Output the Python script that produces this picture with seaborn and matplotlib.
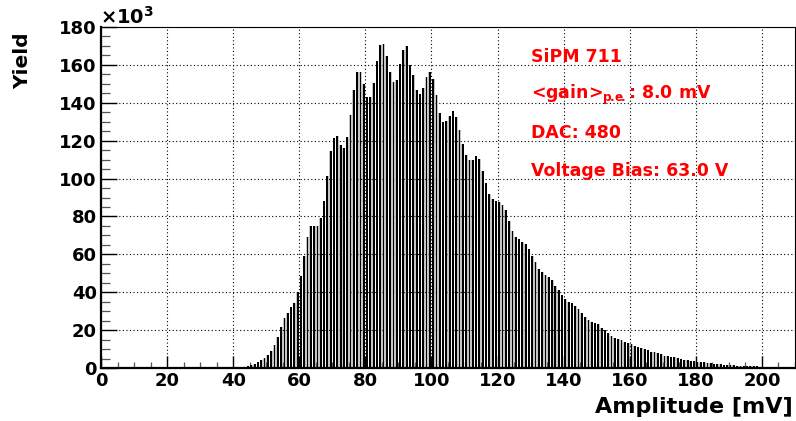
import numpy as np
import pandas as pd
import matplotlib
matplotlib.use("Agg")
import matplotlib.pyplot as plt
import seaborn as sns
from matplotlib.ticker import MultipleLocator

# Amplitude bins (1 mV wide, lower edges) and yield per bin (in units of 10^3)
amplitude_mv = list(range(41, 209))
yield_k = [
    0.2, 0.35, 0.5, 1.0, 1.5, 2.1, 3.0, 4.2, 5.1, 6.9,            # 41-50
    9.0, 12.2, 16.5, 21.8, 26.2, 28.8, 32.1, 34.5, 40.0, 48.6,    # 51-60
    59.2, 69.0, 74.7, 75.2, 75.2, 79.1, 88.0, 101.4, 114.8, 121.3,  # 61-70
    122.2, 117.8, 116.0, 121.7, 133.3, 146.5, 156.0, 156.5, 150.0, 143.0,  # 71-80
    143.0, 150.4, 162.2, 170.6, 171.1, 164.5, 156.2, 150.9, 152.1, 160.4,  # 81-90
    168.0, 170.0, 160.0, 154.8, 146.9, 144.7, 147.7, 153.5, 156.3, 152.6,  # 91-100
    144.2, 134.5, 130.1, 130.5, 133.2, 135.8, 132.5, 125.7, 118.3, 112.5,  # 101-110
    109.7, 109.6, 111.7, 110.4, 104.1, 97.8, 92.1, 89.1, 88.0, 87.8,       # 111-120
    86.1, 83.4, 77.5, 72.5, 69.0, 67.9, 66.7, 65.3, 62.8, 59.2,            # 121-130
    55.7, 52.3, 50.5, 49.1, 48.2, 46.5, 43.3, 41.2, 38.5, 36.3,            # 131-140
    34.7, 34.2, 32.9, 31.0, 28.9, 27.1, 25.4, 24.5, 23.6, 23.1,            # 141-150
    21.3, 20.1, 18.7, 16.9, 16.0, 15.1, 14.8, 13.9, 13.0, 12.7,            # 151-160
    11.8, 10.9, 10.5, 9.9, 9.5, 8.6, 8.3, 7.7, 7.4, 6.5,                   # 161-170
    6.2, 6.0, 5.6, 5.1, 4.8, 4.4, 4.2, 3.9, 3.7, 3.3,                      # 171-180
    3.0, 3.0, 2.6, 2.5, 2.1, 2.1, 1.9, 1.6, 1.6, 1.4,                      # 181-190
    1.4, 1.2, 1.2, 1.1, 0.9, 0.9, 0.9, 0.9, 0.7, 0.5,                      # 191-200
    0.4, 0.4, 0.3, 0.3, 0.3, 0.2, 0.2, 0.2,                                # 201-208
]

x_ticks = list(range(0, 201, 20))
y_ticks = list(range(0, 181, 20))

label_lines = ["SiPM 711",
               r"<gain>$_{\mathbf{p\!.\!e\!.}}$: 8.0 mV",
               "DAC: 480",
               "Voltage Bias: 63.0 V"]

df = pd.DataFrame({"amplitude": [a + 0.5 for a in amplitude_mv], "yield": yield_k})
bin_range = (amplitude_mv[0], amplitude_mv[-1] + 1)

sns.set_style("white")
plt.rcParams["font.family"] = ["DejaVu Sans"]
plt.rcParams["font.weight"] = "bold"
plt.rcParams["mathtext.fontset"] = "dejavusans"
plt.rcParams["mathtext.default"] = "bf"
plt.rcParams["text.color"] = "black"

W, H = 796, 421
fig = plt.figure(figsize=(W / 100, H / 100), dpi=100)
ax = fig.add_axes([101 / W, 1 - 368 / H, (795 - 101) / W, (368 - 27) / H])

# Light shading next to each bar, then the black bars themselves
sns.histplot(data=df, x="amplitude", weights="yield", binwidth=1, binrange=bin_range,
             shrink=0.85, color="#c4c4c4", edgecolor="none", alpha=1, ax=ax, zorder=2)
sns.histplot(data=df, x="amplitude", weights="yield", binwidth=1, binrange=bin_range,
             shrink=0.55, color="black", edgecolor="none", alpha=1, ax=ax, zorder=3)

ax.set_xlim(0, 210)
ax.set_ylim(0, 180)
ax.set_xticks(x_ticks)
ax.set_yticks(y_ticks)
ax.set_xticklabels([str(t) for t in x_ticks])
ax.set_yticklabels([str(t) for t in y_ticks])
ax.xaxis.set_minor_locator(MultipleLocator(5))
ax.yaxis.set_minor_locator(MultipleLocator(5))

ax.tick_params(axis="x", which="both", bottom=True, top=False)
ax.tick_params(axis="y", which="both", left=True, right=False)
ax.tick_params(axis="x", which="major", direction="in", length=8.6, width=1.0,
               labelsize=13, pad=3, color="black", labelcolor="black")
ax.tick_params(axis="x", which="minor", direction="in", length=4.3, width=0.9,
               color="#555555")
ax.tick_params(axis="y", which="major", direction="in", length=11.5, width=1.0,
               labelsize=13, pad=3, color="black", labelcolor="black")
ax.tick_params(axis="y", which="minor", direction="in", length=6.5, width=0.9,
               color="#555555")
for lab in ax.get_xticklabels() + ax.get_yticklabels():
    lab.set_fontweight("bold")

ax.grid(True, which="major", color="black", linestyle=(0, (1, 2.2)), linewidth=0.8)
ax.set_axisbelow(False)
for line in ax.get_xgridlines() + ax.get_ygridlines():
    line.set_zorder(1)

for side in ["left", "bottom"]:
    ax.spines[side].set_linewidth(1.6)
for side in ["top", "right"]:
    ax.spines[side].set_linewidth(0.8)
for s in ax.spines.values():
    s.set_color("black")
    s.set_zorder(5)

ax.set_xlabel("")
ax.set_ylabel("")

# Axis titles placed at the end of each axis
fig.text(793 / W, 1 - 407 / H, "Amplitude [mV]", ha="right", va="center",
         fontsize=16, fontweight="bold", color="black")
fig.text(23 / W, 1 - 32 / H, "Yield", ha="center", va="top", rotation=90,
         fontsize=14.5, fontweight="bold", color="black")
fig.text(100 / W, 1 - 24 / H, r"$\times$10$^{3}$", ha="left", va="baseline",
         fontsize=14, fontweight="bold", color="black")

# Run annotations
y_centers = [57, 95, 133.5, 171.5]
for txt, yc in zip(label_lines, y_centers):
    fig.text(531 / W, 1 - yc / H, txt, ha="left", va="center", color="#ff0000",
             fontsize=12.5, fontweight="bold")

fig.savefig("out.png", dpi=100)
